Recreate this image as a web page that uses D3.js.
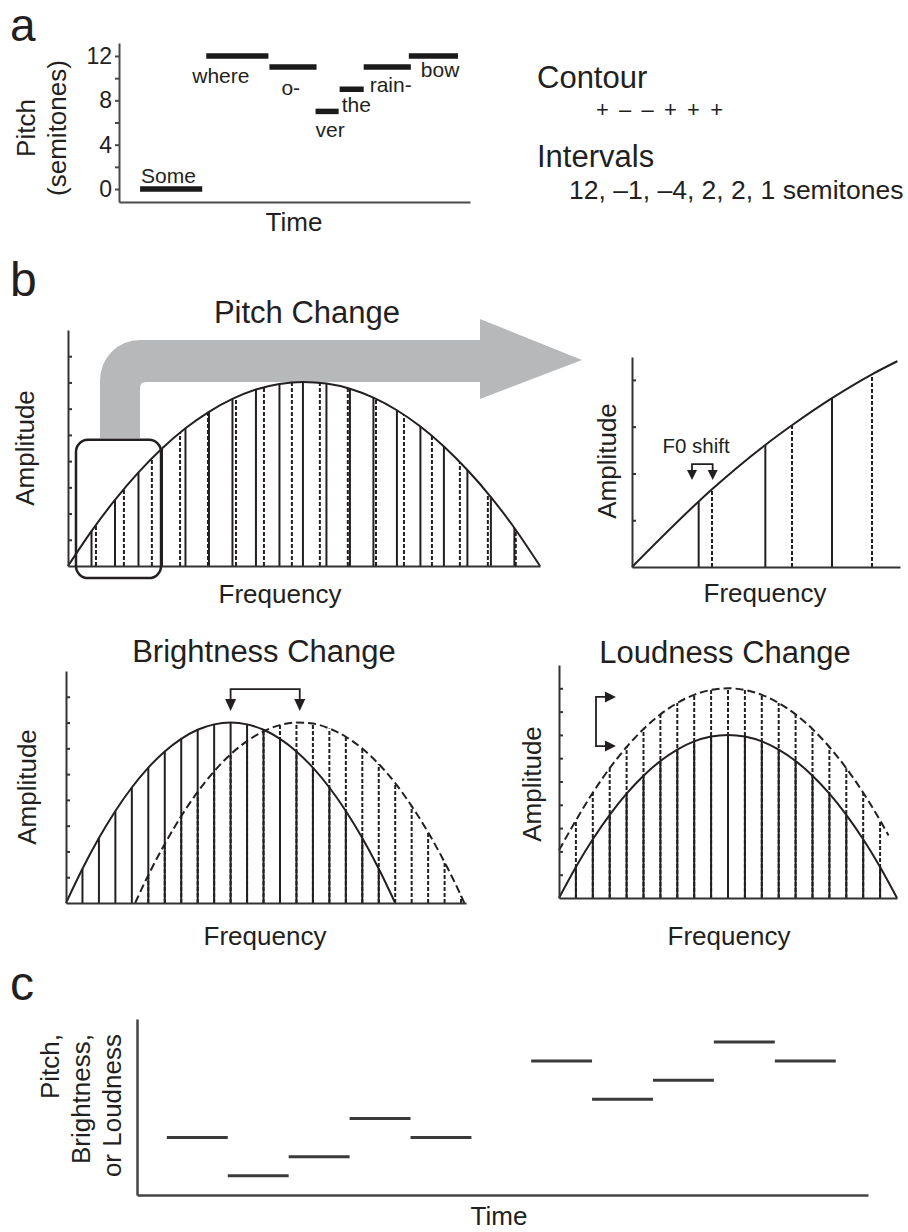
<!DOCTYPE html>
<html>
<head>
<meta charset="utf-8">
<script src="https://cdn.jsdelivr.net/npm/d3@7"></script>
<style>
  body { margin: 0; background: #fff; }
  svg text { font-family: "Liberation Sans", Arial, Helvetica, sans-serif; fill: #231f20; }
</style>
</head>
<body>
<svg id="fig" width="908" height="1232"></svg>
<script>
// ---------- data: panel a (melody "Somewhere over the rainbow") ----------
const lyrics = ['Some', 'where', 'o-', 'ver', 'the', 'rain-', 'bow'];
const noteStart = [0.21, 0.87, 1.50, 1.96, 2.20, 2.44, 2.89];
const noteEnd = [0.83, 1.49, 1.97, 2.19, 2.44, 2.91, 3.38];
const notePitch = [0, 12, 11, 7, 9, 11, 12];
const pitchTicks = [0, 2, 4, 6, 8, 10, 12];
const contourText = '+ \u2013 \u2013 + + +';
const intervalText = '12, \u20131, \u20134, 2, 2, 1 semitones';

// ---------- data: panel b, pitch change (harmonic number, amplitude) ----------
const pitchF = [1, 2, 3, 4, 5, 6, 7, 8, 9, 10, 11, 12, 13, 14, 15, 16, 17, 18, 19];
const pitchA = [1.33, 2.52, 3.57, 4.48, 5.25, 5.88, 6.37, 6.73, 6.94, 7.02, 6.96, 6.76, 6.42, 5.94, 5.32, 4.56, 3.66, 2.63, 1.45];
const pitchShiftF = [1.19, 2.38, 3.57, 4.77, 5.96, 7.15, 8.34, 9.53, 10.72, 11.91, 13.11, 14.30, 15.49, 16.68, 17.87, 19.06];
const pitchShiftA = [1.56, 2.93, 4.10, 5.08, 5.86, 6.44, 6.82, 7.00, 6.99, 6.78, 6.37, 5.76, 4.96, 3.96, 2.77, 1.38];
const pitchEnvEnds = [[0, 0], [20.09, 0]];

// zoomed-in view (F0 shift)
const zoomF = [1, 2, 3];
const zoomA = [1.40, 2.61, 3.61];
const zoomShiftF = [1.2, 2.4, 3.6];
const zoomShiftA = [1.66, 3.03, 4.12];
const zoomEnvF = [0, 1, 1.2, 2, 2.4, 3, 3.6, 3.98];
const zoomEnvA = [0, 1.40, 1.66, 2.61, 3.03, 3.61, 4.12, 4.40];

// brightness change
const brightF = [1, 2, 3, 4, 5, 6, 7, 8, 9, 10, 11, 12, 13, 14, 15, 16, 17, 18, 19];
const brightA = [1.33, 2.52, 3.57, 4.48, 5.25, 5.88, 6.37, 6.72, 6.93, 7.00, 6.93, 6.72, 6.37, 5.88, 5.25, 4.48, 3.57, 2.52, 1.33];
const brightShiftF = [5, 6, 7, 8, 9, 10, 11, 12, 13, 14, 15, 16, 17, 18, 19, 20, 21, 22, 23, 24];
const brightShiftA = [1.08, 2.29, 3.37, 4.31, 5.11, 5.77, 6.28, 6.66, 6.90, 7.00, 6.96, 6.77, 6.45, 5.99, 5.39, 4.65, 3.76, 2.74, 1.58, 0.28];
const brightEnvEnds = [[0, 0], [20, 0]];
const brightShiftEnvEnds = [[4.2, 0], [24.2, 0]];

// loudness change
const loudF = [1, 2, 3, 4, 5, 6, 7, 8, 9, 10, 11, 12, 13, 14, 15, 16, 17, 18, 19];
const loudA = [1.33, 2.52, 3.57, 4.48, 5.25, 5.88, 6.37, 6.72, 6.93, 7.00, 6.93, 6.72, 6.37, 5.88, 5.25, 4.48, 3.57, 2.52, 1.33];
const loudBoostA = [3.33, 4.52, 5.57, 6.48, 7.25, 7.88, 8.37, 8.72, 8.93, 9.00, 8.93, 8.72, 8.37, 7.88, 7.25, 6.48, 5.57, 4.52, 3.33];
const loudEnvEnds = [[0, 0], [20, 0]];
const loudBoostEnvEnds = [[0, 2.05], [19.5, 2.68]];

// ---------- data: panel c (generic melody) ----------
const cStart = [0.49, 1.49, 2.49, 3.49, 4.49, 6.47, 7.47, 8.47, 9.47, 10.47];
const cEnd = [1.49, 2.49, 3.49, 4.49, 5.49, 7.47, 8.47, 9.47, 10.47, 11.47];
const cLevel = [3, 1, 2, 4, 3, 7, 5, 6, 8, 7];

// ---------- drawing ----------
const ink = '#231f20';
const svg = d3.select('#fig');

function addText(g, txt, x, y, size, anchor = 'start', rot = 0) {
    const t = g.append('text')
        .text(txt)
        .attr('font-size', size)
        .attr('text-anchor', anchor);
    if (rot) t.attr('transform', `translate(${ x },${ y }) rotate(${ rot })`);
    else t.attr('x', x).attr('y', y);
    return t;
}

function styleAxis(sel, color, width) {
    sel.selectAll('path, line').attr('stroke', color).attr('stroke-width', width);
}

// panel letters
addText(svg, 'a', 10, 41, 46);
addText(svg, 'b', 10, 296, 48);
addText(svg, 'c', 10, 1000, 48);

// ===== panel a =====
{
    const g = svg.append('g');
    const x = d3.scaleLinear([0, 3.5], [119, 470]);
    const y = d3.scaleLinear([-1.17, 13.17], [202, 43]);

    g.append('g')
        .attr('transform', `translate(${ x.range()[0] },0)`)
        .call(d3.axisLeft(y).tickValues(pitchTicks).tickSize(4).tickSizeOuter(0).tickPadding(3)
            .tickFormat((d) => (d % 4 === 0 ? d : '')))
        .call((s) => styleAxis(s, '#4a4a4a', 2))
        .call((s) => s.selectAll('text').attr('font-size', 23).attr('font-family', null).attr('fill', ink));
    g.append('g')
        .attr('transform', `translate(0,${ y.range()[0] })`)
        .call(d3.axisBottom(x).tickValues([]).tickSizeOuter(0))
        .call((s) => styleAxis(s, '#4a4a4a', 2));

    const notes = lyrics.map((w, i) => ({ w, s: noteStart[i], e: noteEnd[i], p: notePitch[i] }));
    g.selectAll('line.note').data(notes).join('line')
        .attr('class', 'note')
        .attr('x1', (d) => x(d.s)).attr('x2', (d) => x(d.e))
        .attr('y1', (d) => y(d.p)).attr('y2', (d) => y(d.p))
        .attr('stroke', '#1a1a1a').attr('stroke-width', 5.5);

    // lyric placement relative to each bar: [dx from bar start, dy from bar]
    const place = { 'Some': [1, -6], 'where': [-14, 27], 'o-': [12, 27.5], 'ver': [0, 26],
        'the': [2, 23], 'rain-': [6, 24.5], 'bow': [12, 21] };
    g.selectAll('text.lyric').data(notes).join('text')
        .attr('class', 'lyric')
        .attr('x', (d) => x(d.s) + place[d.w][0])
        .attr('y', (d) => y(d.p) + place[d.w][1])
        .attr('font-size', 21)
        .text((d) => d.w);

    addText(g, 'Pitch', 35, 128, 26, 'middle', -90);
    addText(g, '(semitones)', 66, 128, 26, 'middle', -90);
    addText(g, 'Time', 294, 231, 26, 'middle');

    addText(g, 'Contour', 537, 88, 31);
    addText(g, contourText, 596, 117, 22).attr('textLength', 127).attr('lengthAdjust', 'spacing');
    addText(g, 'Intervals', 537, 167, 31);
    addText(g, intervalText, 569, 199, 26.5);
}

// ===== generic spectrum panel =====
function spectrumPanel(p) {
    const g = svg.append('g');
    const x = d3.scaleLinear(p.xDomain, p.xRange);
    const y = d3.scaleLinear(p.yDomain, p.yRange);
    const env = d3.line().x((d) => x(d[0])).y((d) => y(d[1])).curve(d3.curveMonotoneX);

    if (p.before) p.before(g, x, y);

    if (p.dashF) {
        g.append('g').selectAll('line').data(d3.zip(p.dashF, p.dashA)).join('line')
            .attr('x1', (d) => x(d[0])).attr('x2', (d) => x(d[0]))
            .attr('y1', y(0)).attr('y2', (d) => y(d[1]))
            .attr('stroke', ink).attr('stroke-width', 2).attr('stroke-dasharray', '4,2');
    }
    if (p.dashEnv) {
        g.append('path').datum(p.dashEnv).attr('d', env)
            .attr('fill', 'none').attr('stroke', ink).attr('stroke-width', 2)
            .attr('stroke-dasharray', '8,4');
    }
    g.append('g').selectAll('line').data(d3.zip(p.solidF, p.solidA)).join('line')
        .attr('x1', (d) => x(d[0])).attr('x2', (d) => x(d[0]))
        .attr('y1', y(0)).attr('y2', (d) => y(d[1]))
        .attr('stroke', ink).attr('stroke-width', 2);
    g.append('path').datum(p.solidEnv).attr('d', env)
        .attr('fill', 'none').attr('stroke', ink).attr('stroke-width', 2);

    g.append('g')
        .attr('transform', `translate(${ x.range()[0] },0)`)
        .call(d3.axisRight(y).tickValues(p.yTicks).tickSize(4).tickSizeOuter(0).tickFormat(''))
        .call((s) => styleAxis(s, '#333', 2));
    g.append('g')
        .attr('transform', `translate(0,${ y.range()[0] })`)
        .call(d3.axisBottom(x).tickValues([]).tickSizeOuter(0))
        .call((s) => styleAxis(s, '#333', 2));

    if (p.title) addText(g, p.title, p.titlePos[0], p.titlePos[1], 31, 'middle');
    addText(g, 'Amplitude', p.ampPos[0], p.ampPos[1], 26, 'middle', -90);
    addText(g, 'Frequency', p.freqPos[0], p.freqPos[1], 26, 'middle');
    if (p.after) p.after(g, x, y);
    return g;
}

function arrowHead(g, tx, ty, dir, len = 10, half = 5) {
    // dir: 'down' or 'right'
    const pts = dir === 'down'
        ? [[tx, ty], [tx - half, ty - len], [tx + half, ty - len]]
        : [[tx, ty], [tx - len, ty - half], [tx - len, ty + half]];
    g.append('path').attr('d', d3.line()(pts) + 'Z').attr('fill', ink);
}

// pitch change
spectrumPanel({
    xDomain: [0, 20.09], xRange: [68, 540],
    yDomain: [0, 9], yRange: [566, 330],
    yTicks: [1, 2, 3, 4, 5, 6, 7, 8],
    solidF: pitchF, solidA: pitchA,
    solidEnv: [pitchEnvEnds[0], ...d3.zip(pitchF, pitchA), pitchEnvEnds[1]],
    dashF: pitchShiftF, dashA: pitchShiftA,
    title: 'Pitch Change', titlePos: [307, 323],
    ampPos: [34, 448], freqPos: [280, 603],
    before: (g) => {
        // big grey arrow from the zoom box to the enlarged view
        const r = 40;
        const d = `M100,438 V${ 340 + r } A${ r },${ r } 0 0 1 ${ 100 + r },340 H480 V319 L582,360 L480,399 V382 H146 Q140,382 140,388 V438 Z`;
        g.append('path').attr('d', d).attr('fill', '#b7b8ba');
    },
    after: (g, x, y) => {
        g.append('rect')
            .attr('x', x(0.34)).attr('y', y(4.81))
            .attr('width', x(3.96) - x(0.34)).attr('height', y(-0.46) - y(4.81))
            .attr('rx', 12).attr('fill', 'none').attr('stroke', ink).attr('stroke-width', 2.5);
    },
});

// enlarged view with F0 shift
spectrumPanel({
    xDomain: [0, 4.02], xRange: [632, 900],
    yDomain: [0, 4.49], yRange: [567, 357],
    yTicks: [1, 2, 3, 4],
    solidF: zoomF, solidA: zoomA,
    solidEnv: d3.zip(zoomEnvF, zoomEnvA),
    dashF: zoomShiftF, dashA: zoomShiftA,
    ampPos: [616, 461], freqPos: [765, 602],
    after: (g, x, y) => {
        const x1 = x(0.9), x2 = x(1.21), yTop = y(2.2), yTip = y(1.86);
        g.append('path').attr('d', `M${ x1 },${ yTip - 9 } V${ yTop } H${ x2 } V${ yTip - 9 }`)
            .attr('fill', 'none').attr('stroke', ink).attr('stroke-width', 1.8);
        arrowHead(g, x1, yTip, 'down', 10, 5);
        arrowHead(g, x2, yTip, 'down', 10, 5);
        addText(g, 'F0 shift', 696, 453, 20.5, 'middle');
    },
});

// brightness change
spectrumPanel({
    xDomain: [0, 24.3], xRange: [66, 466],
    yDomain: [0, 9], yRange: [903, 671],
    yTicks: [1, 2, 3, 4, 5, 6, 7, 8],
    solidF: brightF, solidA: brightA,
    solidEnv: [brightEnvEnds[0], ...d3.zip(brightF, brightA), brightEnvEnds[1]],
    dashF: brightShiftF, dashA: brightShiftA,
    dashEnv: [brightShiftEnvEnds[0], ...d3.zip(brightShiftF, brightShiftA), brightShiftEnvEnds[1]],
    title: 'Brightness Change', titlePos: [264, 662],
    ampPos: [36, 787], freqPos: [265, 945],
    after: (g, x, y) => {
        const x1 = x(10), x2 = x(14.2), yTop = y(8.3), yTip = y(7.45);
        g.append('path').attr('d', `M${ x1 },${ yTip - 10 } V${ yTop } H${ x2 } V${ yTip - 10 }`)
            .attr('fill', 'none').attr('stroke', ink).attr('stroke-width', 1.8);
        arrowHead(g, x1, yTip, 'down', 12, 5.5);
        arrowHead(g, x2, yTip, 'down', 12, 5.5);
    },
});

// loudness change
spectrumPanel({
    xDomain: [0, 20], xRange: [559, 897],
    yDomain: [0, 10], yRange: [898, 665],
    yTicks: [1, 2, 3, 4, 5, 6, 7, 8, 9],
    solidF: loudF, solidA: loudA,
    solidEnv: [loudEnvEnds[0], ...d3.zip(loudF, loudA), loudEnvEnds[1]],
    dashF: loudF, dashA: loudBoostA,
    dashEnv: [loudBoostEnvEnds[0], ...d3.zip(loudF, loudBoostA), loudBoostEnvEnds[1]],
    title: 'Loudness Change', titlePos: [725, 663],
    ampPos: [541, 784], freqPos: [729, 945],
    after: (g, x, y) => {
        const xb = x(2.19), xTip = x(3.37), yA = y(8.63), yB = y(6.52);
        g.append('path').attr('d', `M${ xTip - 10 },${ yA } H${ xb } V${ yB } H${ xTip - 10 }`)
            .attr('fill', 'none').attr('stroke', ink).attr('stroke-width', 1.8);
        arrowHead(g, xTip, yA, 'right', 11, 5.5);
        arrowHead(g, xTip, yB, 'right', 11, 5.5);
    },
});

// ===== panel c =====
{
    const g = svg.append('g');
    const x = d3.scaleLinear([0, 12], [137, 868]);
    const y = d3.scaleLinear([0, 9.2], [1195, 1019]);

    g.append('g')
        .attr('transform', `translate(${ x.range()[0] },0)`)
        .call(d3.axisLeft(y).tickValues([]).tickSizeOuter(0))
        .call((s) => styleAxis(s, '#444', 2.5));
    g.append('g')
        .attr('transform', `translate(0,${ y.range()[0] })`)
        .call(d3.axisBottom(x).tickValues([]).tickSizeOuter(0))
        .call((s) => styleAxis(s, '#444', 2.5));

    g.selectAll('line.cnote').data(d3.zip(cStart, cEnd, cLevel)).join('line')
        .attr('class', 'cnote')
        .attr('x1', (d) => x(d[0])).attr('x2', (d) => x(d[1]))
        .attr('y1', (d) => y(d[2])).attr('y2', (d) => y(d[2]))
        .attr('stroke', '#3a3a3a').attr('stroke-width', 3);

    addText(g, 'Pitch,', 59, 1034, 26, 'end', -90);
    addText(g, 'Brightness,', 90, 1034, 26, 'end', -90);
    addText(g, 'or Loudness', 121, 1034, 26, 'end', -90);
    addText(g, 'Time', 499, 1225, 26, 'middle');
}
</script>
</body>
</html>
